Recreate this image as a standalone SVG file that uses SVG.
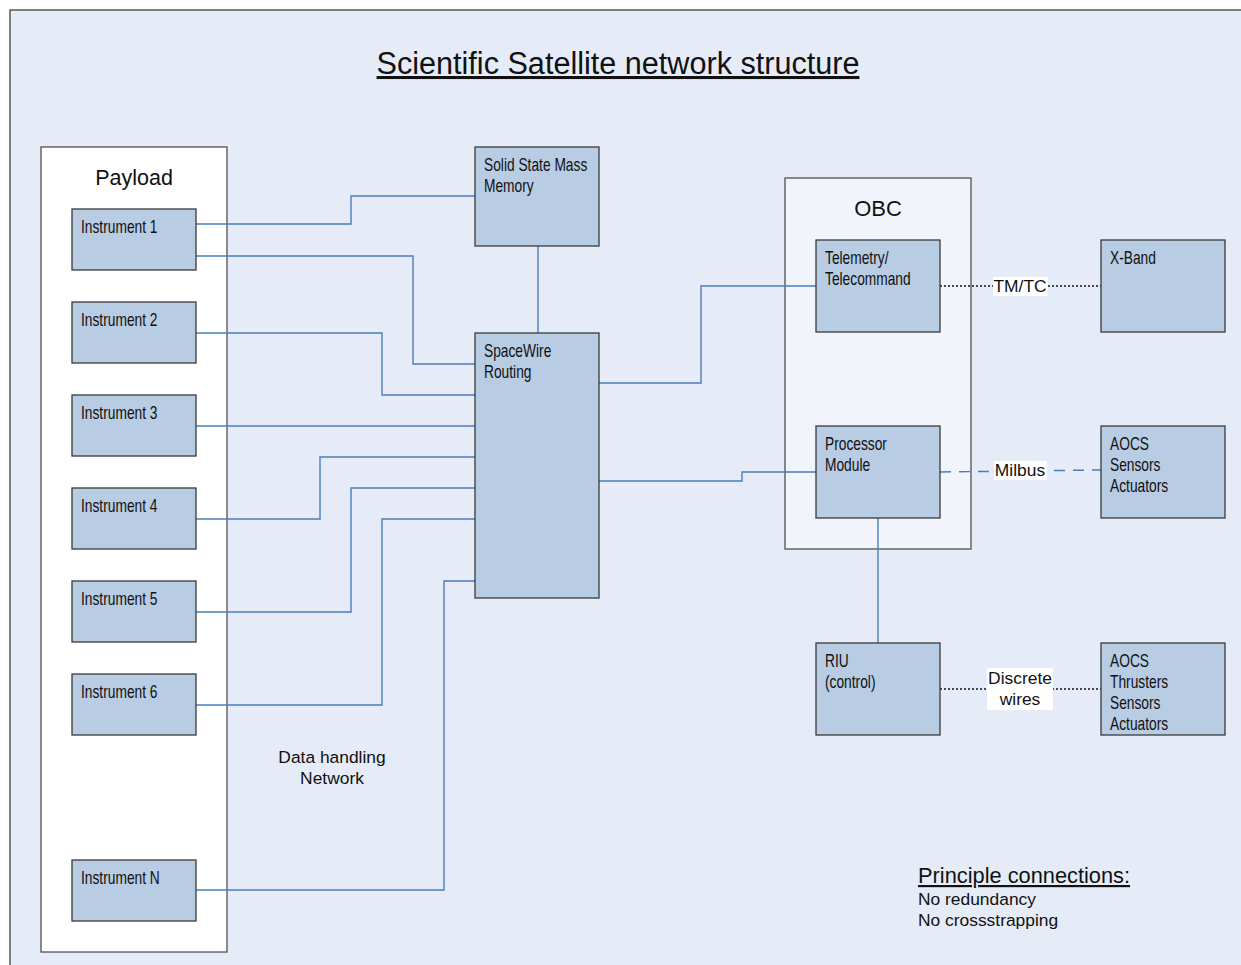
<svg xmlns="http://www.w3.org/2000/svg" width="1241" height="965" viewBox="0 0 1241 965">
<defs>
<style>
.frame{fill:#e6ecf7;stroke:#404040;stroke-width:1.3}
.box{fill:#b8cce4;stroke:#3a3a3a;stroke-width:1.3}
.cont{stroke:#505050;stroke-width:1.3}
.nt{font-family:"Liberation Sans",Arial,sans-serif;font-size:18px;fill:#111}
.lt{font-family:"Liberation Sans",Arial,sans-serif;fill:#111}
.conn{fill:none;stroke:#4a7ebb;stroke-width:1.4}
.dot{fill:none;stroke:#111;stroke-width:1.3;stroke-dasharray:2 2}
.dash{fill:none;stroke:#4a7ebb;stroke-width:1.5;stroke-dasharray:11 8}
.lbg{fill:#ffffff}
</style>
</defs>
<rect x="10" y="10" width="1245" height="970" class="frame"/>
<text x="618" y="74" class="lt" font-size="30.6" text-anchor="middle" text-decoration="underline">Scientific Satellite network structure</text>

<g id="payload">
<rect x="41" y="147" width="186" height="805" fill="#ffffff" class="cont"/>
<text x="134" y="185" class="lt" font-size="21.5" text-anchor="middle">Payload</text>
</g>
<g id="obc">
<rect x="785" y="178" width="186" height="371" fill="#f1f5fb" class="cont"/>
<text x="878" y="216" class="lt" font-size="22" text-anchor="middle">OBC</text>
</g>

<g id="connectors">
<polyline class="conn" points="196,224 351,224 351,196 475,196"/>
<polyline class="conn" points="196,256 413,256 413,364 475,364"/>
<polyline class="conn" points="196,333 382,333 382,395 475,395"/>
<polyline class="conn" points="196,426 475,426"/>
<polyline class="conn" points="196,519 320,519 320,457 475,457"/>
<polyline class="conn" points="196,612 351,612 351,488 475,488"/>
<polyline class="conn" points="196,705 382,705 382,519 475,519"/>
<polyline class="conn" points="196,890 444,890 444,581 475,581"/>
<polyline class="conn" points="538,246 538,333"/>
<polyline class="conn" points="599,383 701,383 701,286 816,286"/>
<polyline class="conn" points="599,481 742,481 742,472 816,472"/>
<polyline class="conn" points="878,518 878,643"/>
<line class="dot" x1="940" y1="286" x2="1101" y2="286"/>
<polyline class="dash" points="940,472 1020,471 1101,470"/>
<line class="dot" x1="940" y1="689" x2="1101" y2="689"/>
<rect class="lbg" x="993" y="277" width="55" height="19"/>
<text x="1020" y="292" class="lt" font-size="17.4" text-anchor="middle">TM/TC</text>
<rect class="lbg" x="994" y="461" width="53" height="19"/>
<text x="1020" y="476" class="lt" font-size="17.4" text-anchor="middle">Milbus</text>
<rect class="lbg" x="987" y="668" width="66" height="42"/>
<text x="1020" y="684" class="lt" font-size="17.4" text-anchor="middle">Discrete</text>
<text x="1020" y="705" class="lt" font-size="17.4" text-anchor="middle">wires</text>
</g>

<g id="inst1"><rect x="72" y="209" width="124" height="61" class="box"/><text transform="translate(81,233) scale(0.765,1)" class="nt">Instrument 1</text></g>
<g id="inst2"><rect x="72" y="302" width="124" height="61" class="box"/><text transform="translate(81,326) scale(0.765,1)" class="nt">Instrument 2</text></g>
<g id="inst3"><rect x="72" y="395" width="124" height="61" class="box"/><text transform="translate(81,419) scale(0.765,1)" class="nt">Instrument 3</text></g>
<g id="inst4"><rect x="72" y="488" width="124" height="61" class="box"/><text transform="translate(81,512) scale(0.765,1)" class="nt">Instrument 4</text></g>
<g id="inst5"><rect x="72" y="581" width="124" height="61" class="box"/><text transform="translate(81,605) scale(0.765,1)" class="nt">Instrument 5</text></g>
<g id="inst6"><rect x="72" y="674" width="124" height="61" class="box"/><text transform="translate(81,698) scale(0.765,1)" class="nt">Instrument 6</text></g>
<g id="instN"><rect x="72" y="860" width="124" height="61" class="box"/><text transform="translate(81,884) scale(0.765,1)" class="nt">Instrument N</text></g>

<g id="ssmm"><rect x="475" y="147" width="124" height="99" class="box"/><text transform="translate(484,171) scale(0.765,1)" class="nt"><tspan x="0" y="0">Solid State Mass</tspan><tspan x="0" y="21">Memory</tspan></text></g>
<g id="spacewire"><rect x="475" y="333" width="124" height="265" class="box"/><text transform="translate(484,357) scale(0.765,1)" class="nt"><tspan x="0" y="0">SpaceWire</tspan><tspan x="0" y="21">Routing</tspan></text></g>
<g id="tmtc"><rect x="816" y="240" width="124" height="92" class="box"/><text transform="translate(825,264) scale(0.765,1)" class="nt"><tspan x="0" y="0">Telemetry/</tspan><tspan x="0" y="21">Telecommand</tspan></text></g>
<g id="processor"><rect x="816" y="426" width="124" height="92" class="box"/><text transform="translate(825,450) scale(0.765,1)" class="nt"><tspan x="0" y="0">Processor</tspan><tspan x="0" y="21">Module</tspan></text></g>
<g id="riu"><rect x="816" y="643" width="124" height="92" class="box"/><text transform="translate(825,667) scale(0.765,1)" class="nt"><tspan x="0" y="0">RIU</tspan><tspan x="0" y="21">(control)</tspan></text></g>
<g id="xband"><rect x="1101" y="240" width="124" height="92" class="box"/><text transform="translate(1110,264) scale(0.765,1)" class="nt">X-Band</text></g>
<g id="aocs1"><rect x="1101" y="426" width="124" height="92" class="box"/><text transform="translate(1110,450) scale(0.765,1)" class="nt"><tspan x="0" y="0">AOCS</tspan><tspan x="0" y="21">Sensors</tspan><tspan x="0" y="42">Actuators</tspan></text></g>
<g id="aocs2"><rect x="1101" y="643" width="124" height="92" class="box"/><text transform="translate(1110,667) scale(0.765,1)" class="nt"><tspan x="0" y="0">AOCS</tspan><tspan x="0" y="21">Thrusters</tspan><tspan x="0" y="42">Sensors</tspan><tspan x="0" y="63">Actuators</tspan></text></g>

<text x="332" y="763" class="lt" font-size="17.4" text-anchor="middle">Data handling</text>
<text x="332" y="784" class="lt" font-size="17.4" text-anchor="middle">Network</text>

<text x="918" y="883" class="lt" font-size="21.8" text-decoration="underline">Principle connections:</text>
<text x="918" y="905" class="lt" font-size="17.4">No redundancy</text>
<text x="918" y="926" class="lt" font-size="17.4">No crossstrapping</text>
</svg>
